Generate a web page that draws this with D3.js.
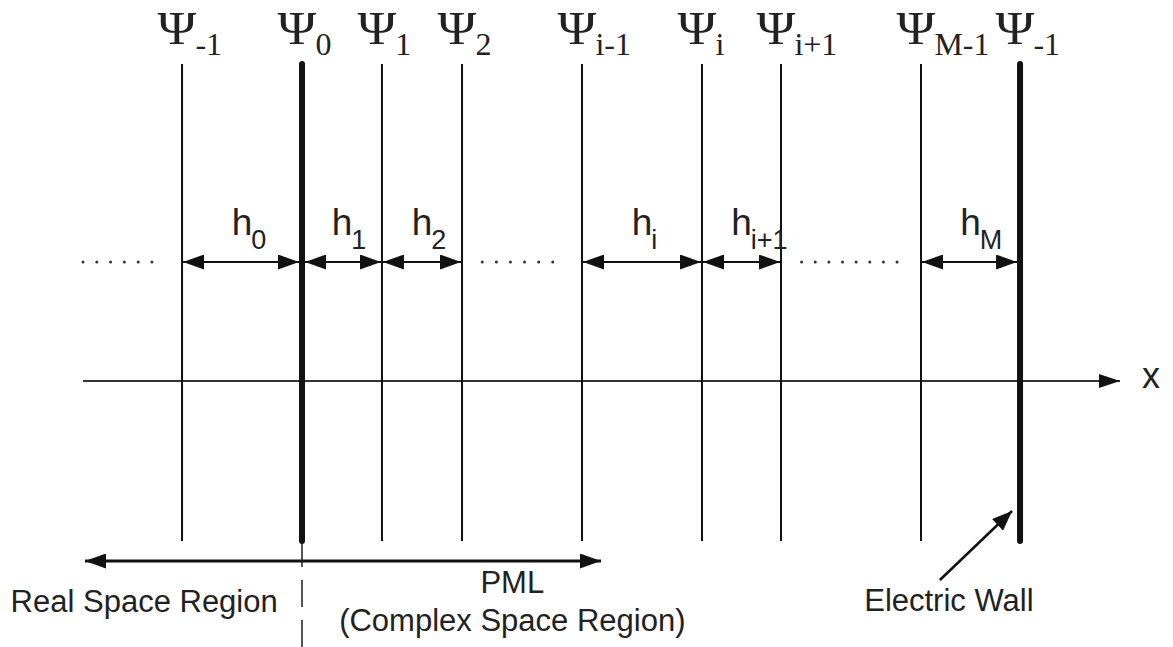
<!DOCTYPE html>
<html>
<head>
<meta charset="utf-8">
<script src="https://cdn.jsdelivr.net/npm/d3@7"></script>
<style>
  html, body { margin: 0; padding: 0; background: #fff; }
  svg { display: block; }
</style>
</head>
<body>
<svg id="chart" width="1173" height="647"></svg>
<script>
// Grid nodes along x (position in axis units) and their subscripts
const nodeSubs = ["-1", "0", "1", "2", "i-1", "i", "i+1", "M-1", "-1"];
const nodePos = [9.55, 21.12, 28.83, 36.55, 48.12, 59.69, 67.31, 80.81, 90.36];
const nodeBold = [false, true, false, false, false, false, false, false, true];

// Step widths h_k, each spanning two node indices
const stepSubs = ["0", "1", "2", "i", "i+1", "M"];
const stepFrom = [0, 1, 2, 4, 5, 7];
const stepTo = [1, 2, 3, 5, 6, 8];

// Ellipsis runs between nodes (start, end in axis units, dot count)
const dotStart = [0.0, 38.5, 69.3];
const dotEnd = [6.65, 45.3, 78.5];
const dotCount = [6, 6, 8];

// Region annotations
const regionSpan = [0.19, 49.95];
const regionLabels = ["Real Space Region", "PML", "(Complex Space Region)"];
const regionLabelPos = [5.9, 41.4, 41.4];
const wallLabel = "Electric Wall";
const wallLabelPos = 83.5;

const svg = d3.select("#chart");
const x = d3.scaleLinear().domain([0, 100]).range([83, 1120]);

const ink = "#111";
const textInk = "#222";
const sans = "'Liberation Sans', Arial, sans-serif";
const serif = "'Liberation Serif', 'Times New Roman', serif";

// Arrowhead markers
const defs = svg.append("defs");
function marker(id, len, half) {
  defs.append("marker")
    .attr("id", id)
    .attr("markerUnits", "userSpaceOnUse")
    .attr("viewBox", `0 ${-half} ${len} ${2 * half}`)
    .attr("refX", len).attr("refY", 0)
    .attr("markerWidth", len).attr("markerHeight", 2 * half)
    .attr("orient", "auto-start-reverse")
    .append("path")
    .attr("d", `M0,${-half}L${len},0L0,${half}Z`)
    .attr("fill", ink);
}
marker("head", 21, 7.5);
marker("headAxis", 21, 7);
marker("headWall", 20, 8);

const yTop = 64, yBottom = 541;
const yStep = 262, yAxis = 381, yRegion = 561;

// x axis
svg.append("line")
  .attr("x1", x(0)).attr("x2", x(100))
  .attr("y1", yAxis).attr("y2", yAxis)
  .attr("stroke", "#333").attr("stroke-width", 2)
  .attr("marker-end", "url(#headAxis)");
svg.append("text")
  .attr("x", x(100) + 31).attr("y", yAxis + 7)
  .attr("font-family", sans).attr("font-size", 36)
  .attr("fill", textInk).attr("text-anchor", "middle")
  .text("x");

// Dashed divider between real and complex regions
svg.append("line")
  .attr("x1", x(nodePos[1])).attr("x2", x(nodePos[1]))
  .attr("y1", 540).attr("y2", 647)
  .attr("stroke", "#555").attr("stroke-width", 2)
  .attr("stroke-dasharray", "27,13");

// Grid node lines
svg.selectAll("line.node")
  .data(nodePos)
  .join("line")
  .attr("class", "node")
  .attr("x1", d => x(d)).attr("x2", d => x(d))
  .attr("y1", yTop).attr("y2", yBottom)
  .attr("stroke", ink)
  .attr("stroke-width", (d, i) => nodeBold[i] ? 6 : 2)
  .attr("stroke-linecap", (d, i) => nodeBold[i] ? "round" : "butt");

// Node labels Ψ with subscripts; Ψ glyph centred near the line
const psiStretch = 1.12;
const nodeLabels = svg.selectAll("g.nlabel")
  .data(nodePos)
  .join("g")
  .attr("class", "nlabel")
  .attr("transform", d => `translate(${x(d) - 5},0)`);
nodeLabels.append("text")
  .attr("class", "psi")
  .attr("y", 44)
  .attr("font-family", serif).attr("font-size", 47)
  .attr("fill", textInk).attr("text-anchor", "middle")
  .attr("transform", `scale(${psiStretch},1)`)
  .text("Ψ");
nodeLabels.each(function (d, i) {
  const g = d3.select(this);
  const w = g.select("text.psi").node().getComputedTextLength() * psiStretch;
  g.append("text")
    .attr("x", w / 2 - 1).attr("y", 55)
    .attr("font-family", serif).attr("font-size", 32)
    .attr("fill", textInk)
    .text(nodeSubs[i]);
});

// Step width arrows and h labels
stepSubs.forEach((s, k) => {
  const a = x(nodePos[stepFrom[k]]), b = x(nodePos[stepTo[k]]);
  const ha = nodeBold[stepFrom[k]] ? 3 : 1;
  const hb = nodeBold[stepTo[k]] ? 3 : 1;
  svg.append("line")
    .attr("x1", a + ha).attr("x2", b - hb)
    .attr("y1", yStep).attr("y2", yStep)
    .attr("stroke", ink).attr("stroke-width", 2)
    .attr("marker-start", "url(#head)")
    .attr("marker-end", "url(#head)");
  const g = svg.append("g").attr("transform", `translate(${(a + b) / 2},0)`);
  const h = g.append("text")
    .attr("y", 235)
    .attr("font-family", sans).attr("font-size", 37)
    .attr("fill", textInk).attr("text-anchor", "middle")
    .text("h");
  const w = h.node().getComputedTextLength();
  g.append("text")
    .attr("x", w / 2 - 1).attr("y", 249)
    .attr("font-family", sans).attr("font-size", 27)
    .attr("fill", textInk)
    .text(s);
});

// Ellipses
dotStart.forEach((s, k) => {
  const pts = d3.range(dotCount[k]).map(j => s + (dotEnd[k] - s) * j / (dotCount[k] - 1));
  svg.selectAll(null)
    .data(pts)
    .join("circle")
    .attr("cx", d => x(d)).attr("cy", yStep)
    .attr("r", 1.5)
    .attr("fill", "#333");
});

// Region double arrow
svg.append("line")
  .attr("x1", x(regionSpan[0])).attr("x2", x(regionSpan[1]))
  .attr("y1", yRegion).attr("y2", yRegion)
  .attr("stroke", ink).attr("stroke-width", 3)
  .attr("marker-start", "url(#head)")
  .attr("marker-end", "url(#head)");

const regionY = [612, 593, 631];
regionLabels.forEach((t, k) => {
  svg.append("text")
    .attr("x", x(regionLabelPos[k])).attr("y", regionY[k])
    .attr("font-family", sans).attr("font-size", 31)
    .attr("fill", textInk).attr("text-anchor", "middle")
    .text(t);
});

// Electric wall annotation
svg.append("line")
  .attr("x1", x(wallLabelPos) - 9).attr("y1", 580)
  .attr("x2", x(nodePos[8]) - 8).attr("y2", 511)
  .attr("stroke", ink).attr("stroke-width", 2.5)
  .attr("marker-end", "url(#headWall)");
svg.append("text")
  .attr("x", x(wallLabelPos)).attr("y", 611)
  .attr("font-family", sans).attr("font-size", 31)
  .attr("fill", textInk).attr("text-anchor", "middle")
  .text(wallLabel);
</script>
</body>
</html>
